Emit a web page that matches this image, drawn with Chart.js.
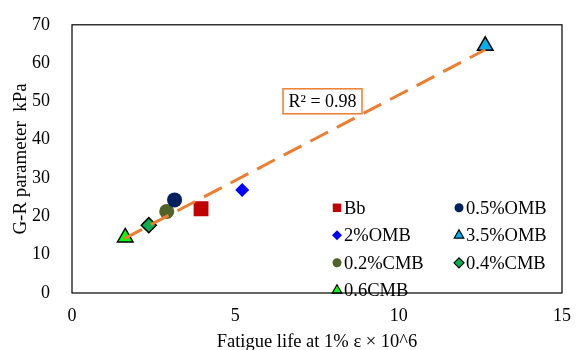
<!DOCTYPE html>
<html>
<head>
<meta charset="utf-8">
<script src="https://cdn.jsdelivr.net/npm/chart.js@4"></script>
<style>
  body { margin: 0; background: #fff; }
  #wrap { width: 582px; height: 350px; }
</style>
</head>
<body>
<div id="wrap"><canvas id="chart"></canvas></div>
<script>
// series names and points
const seriesNames = ['Bb', '0.5%OMB', '2%OMB', '3.5%OMB', '0.2%CMB', '0.4%CMB', '0.6CMB'];
const fatigueLife = [3.95, 3.14, 5.21, 12.65, 2.9, 2.35, 1.63];
const grParam = [22.0, 24.3, 26.9, 64.5, 21.3, 17.7, 14.5];

// linear trend line ends
const trendX = [1.6, 12.65];
const trendY = [14.2, 63.5];
const rSquared = 'R² = 0.98';

const xTicks = [0, 5, 10, 15];
const yTicks = [0, 10, 20, 30, 40, 50, 60, 70];

const styles = [
    { pointStyle: 'rect', color: '#C00000', border: '#C00000', radius: 10.5, lr: 6 },
    { pointStyle: 'circle', color: '#002060', border: '#002060', radius: 7.5, lr: 4.5 },
    { pointStyle: 'rectRot', color: '#0000FF', border: '#0000FF', radius: 7, lr: 5 },
    { pointStyle: 'triangle', color: '#00B0F0', border: '#000000', radius: 9, lr: 5.5 },
    { pointStyle: 'circle', color: '#4F6228', border: '#4F6228', radius: 7.5, lr: 4.5 },
    { pointStyle: 'rectRot', color: '#00B050', border: '#000000', radius: 7.5, lr: 5 },
    { pointStyle: 'triangle', color: '#00FF00', border: '#000000', radius: 9, lr: 5.5 }
];

const FONT = "'Liberation Serif', 'Times New Roman', serif";

const datasets = seriesNames.map((name, i) => ({
    type: 'scatter',
    label: name,
    data: [{ x: fatigueLife[i], y: grParam[i] }],
    pointStyle: styles[i].pointStyle,
    pointRadius: styles[i].radius,
    backgroundColor: styles[i].color,
    borderColor: styles[i].border,
    borderWidth: styles[i].border === '#000000' ? 1.5 : 0,
    order: 1
}));

datasets.push({
    type: 'line',
    label: 'trend',
    data: trendX.map((x, i) => ({ x: x, y: trendY[i] })),
    borderColor: '#ED7D31',
    borderWidth: 3,
    borderDash: [20, 10],
    pointRadius: 0,
    fill: false,
    order: 0
});

// frame, R² box and legend
const extras = {
    id: 'extras',
    afterDatasetsDraw(chart) {
        const ctx = chart.ctx;
        const a = chart.chartArea;
        ctx.save();

        // R² box
        const bx = a.left + 211, by = a.top + 64, bw = 79, bh = 25;
        ctx.fillStyle = '#fff';
        ctx.fillRect(bx, by, bw, bh);
        ctx.strokeStyle = '#ED7D31';
        ctx.lineWidth = 1.5;
        ctx.strokeRect(bx, by, bw, bh);
        ctx.fillStyle = '#000';
        ctx.font = '18px ' + FONT;
        ctx.textAlign = 'center';
        ctx.textBaseline = 'middle';
        ctx.fillText(rSquared, bx + bw / 2, by + bh / 2 + 1);

        // legend, two columns
        ctx.font = '18.5px ' + FONT;
        ctx.textAlign = 'left';
        seriesNames.forEach((name, i) => {
            const col = i % 2, row = Math.floor(i / 2);
            const mx = a.left + 265 + col * 122;
            const my = a.top + 183 + row * 27.5;
            const s = styles[i];
            ctx.fillStyle = s.color;
            ctx.strokeStyle = s.border;
            ctx.lineWidth = s.border === '#000000' ? 1.2 : 0;
            Chart.helpers.drawPoint(ctx, {
                pointStyle: s.pointStyle,
                radius: s.lr,
                rotation: 0,
                borderWidth: s.border === '#000000' ? 1.2 : 0
            }, mx, my);
            ctx.fillStyle = '#000';
            ctx.fillText(name, mx + 7, my + 1);
        });

        // plot frame
        ctx.strokeStyle = '#000';
        ctx.lineWidth = 1.2;
        ctx.strokeRect(a.left, a.top, a.right - a.left, a.bottom - a.top);
        ctx.restore();
    }
};

new Chart(document.getElementById('chart'), {
    type: 'scatter',
    data: { datasets: datasets },
    options: {
        responsive: true,
        maintainAspectRatio: false,
        animation: false,
        layout: { padding: { top: 7, right: 20, left: 0, bottom: 0 } },
        plugins: {
            legend: { display: false },
            tooltip: { enabled: false }
        },
        scales: {
            x: {
                type: 'linear',
                min: 0,
                max: 15,
                afterBuildTicks: (scale) => { scale.ticks = xTicks.map(v => ({ value: v })); },
                grid: { display: false },
                border: { display: false },
                ticks: { color: '#000', font: { family: FONT, size: 18 }, padding: 4 },
                title: {
                    display: true,
                    text: 'Fatigue life at 1% ε × 10^6',
                    color: '#000',
                    font: { family: FONT, size: 18.5 },
                    padding: { top: 4, bottom: -3 }
                },
                afterFit: (scale) => { scale.height = 57; }
            },
            y: {
                type: 'linear',
                min: 0,
                max: 70,
                afterBuildTicks: (scale) => { scale.ticks = yTicks.map(v => ({ value: v })); },
                grid: { display: false },
                border: { display: false },
                ticks: { color: '#000', font: { family: FONT, size: 18 }, padding: 14 },
                title: {
                    display: true,
                    text: 'G-R parameter  kPa',
                    color: '#000',
                    font: { family: FONT, size: 19 },
                    padding: { top: 10, bottom: 0 }
                },
                afterFit: (scale) => { scale.width = 72; }
            }
        }
    },
    plugins: [extras]
});
</script>
</body>
</html>
